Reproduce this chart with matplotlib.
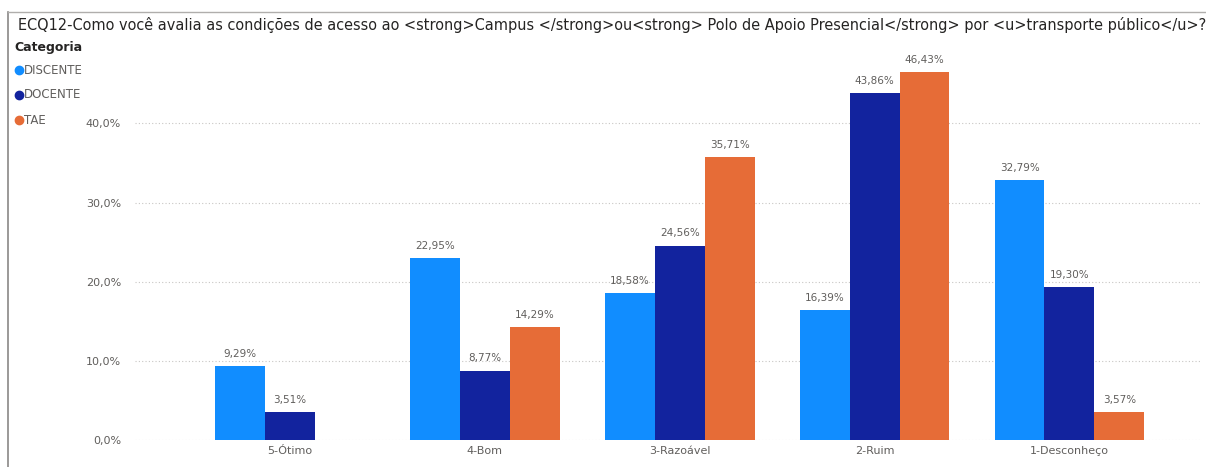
import numpy as np
import matplotlib.pyplot as plt
from matplotlib.lines import Line2D

# dados
categorias = ['5-Ótimo', '4-Bom', '3-Razoável', '2-Ruim', '1-Desconheço']
discente = [9.29, 22.95, 18.58, 16.39, 32.79]
docente = [3.51, 8.77, 24.56, 43.86, 19.30]
tae = [np.nan, 14.29, 35.71, 46.43, 3.57]
series_nomes = ['DISCENTE', 'DOCENTE', 'TAE']
yticks = [0, 10, 20, 30, 40]

cores = ['#118DFF', '#12239E', '#E66C37']
cinza = '#605E5C'
titulo = ('ECQ12-Como você avalia as condições de acesso ao <strong>Campus </strong>ou<strong> '
          'Polo de Apoio Presencial</strong> por <u>transporte público</u>?')

plt.rcParams['font.family'] = ['DejaVu Sans']

fig = plt.figure(figsize=(12.06, 4.67), dpi=100)
ax = fig.add_axes([135/1206, 27/467, 1065/1206, 380/467])

x = np.arange(len(categorias))
w = 0.256
for i, (vals, cor) in enumerate(zip([discente, docente, tae], cores)):
    pos = x + (i - 1) * w
    ax.bar(pos, vals, width=w, color=cor, zorder=3)
    for px, v in zip(pos, vals):
        if np.isnan(v):
            continue
        ax.text(px, v + 0.9, f'{v:.2f}%'.replace('.', ','), ha='center', va='bottom',
                fontsize=7.5, color=cinza)

ax.set_xlim(-0.795, 4.67)
ax.set_ylim(0, 48)
ax.set_yticks(yticks)
ax.set_yticklabels([f'{t:.1f}%'.replace('.', ',') for t in yticks])
ax.set_xticks(x)
ax.set_xticklabels(categorias)
ax.tick_params(axis='both', length=0, labelsize=8, colors=cinza)
ax.tick_params(axis='y', pad=10)
ax.tick_params(axis='x', pad=4)
ax.grid(axis='y', linestyle=(0, (1, 2)), color='#C8C6C4', linewidth=0.8, zorder=0)
for s in ax.spines.values():
    s.set_visible(False)

# título (ajustado para caber na largura)
t = fig.text(18/1206, 1 - 25/467, titulo, fontsize=12, color='#252423', va='center', ha='left')
fig.canvas.draw()
larg = t.get_window_extent().width
t.set_fontsize(12 * 1182 / larg)

fig.text(14/1206, 1 - 48/467, 'Categoria', fontsize=9, color='#252423', va='center',
         ha='left', fontweight='bold')
for k, (nome, cor) in enumerate(zip(series_nomes, cores)):
    yy = 1 - (70 + k * 25) / 467
    fig.add_artist(Line2D([19/1206], [yy], marker='o', markersize=6, color=cor,
                          linestyle='none', transform=fig.transFigure))
    fig.text(24/1206, yy, nome, fontsize=8.5, color=cinza, va='center', ha='left')

# moldura
fig.add_artist(Line2D([8/1206, 8/1206], [0, 1 - 12/467], color='#8A8886', linewidth=1.2,
                      transform=fig.transFigure))
fig.add_artist(Line2D([8/1206, 1], [1 - 12/467, 1 - 12/467], color='#B0AEAC', linewidth=1,
                      transform=fig.transFigure))

fig.savefig('out.png', dpi=100)
